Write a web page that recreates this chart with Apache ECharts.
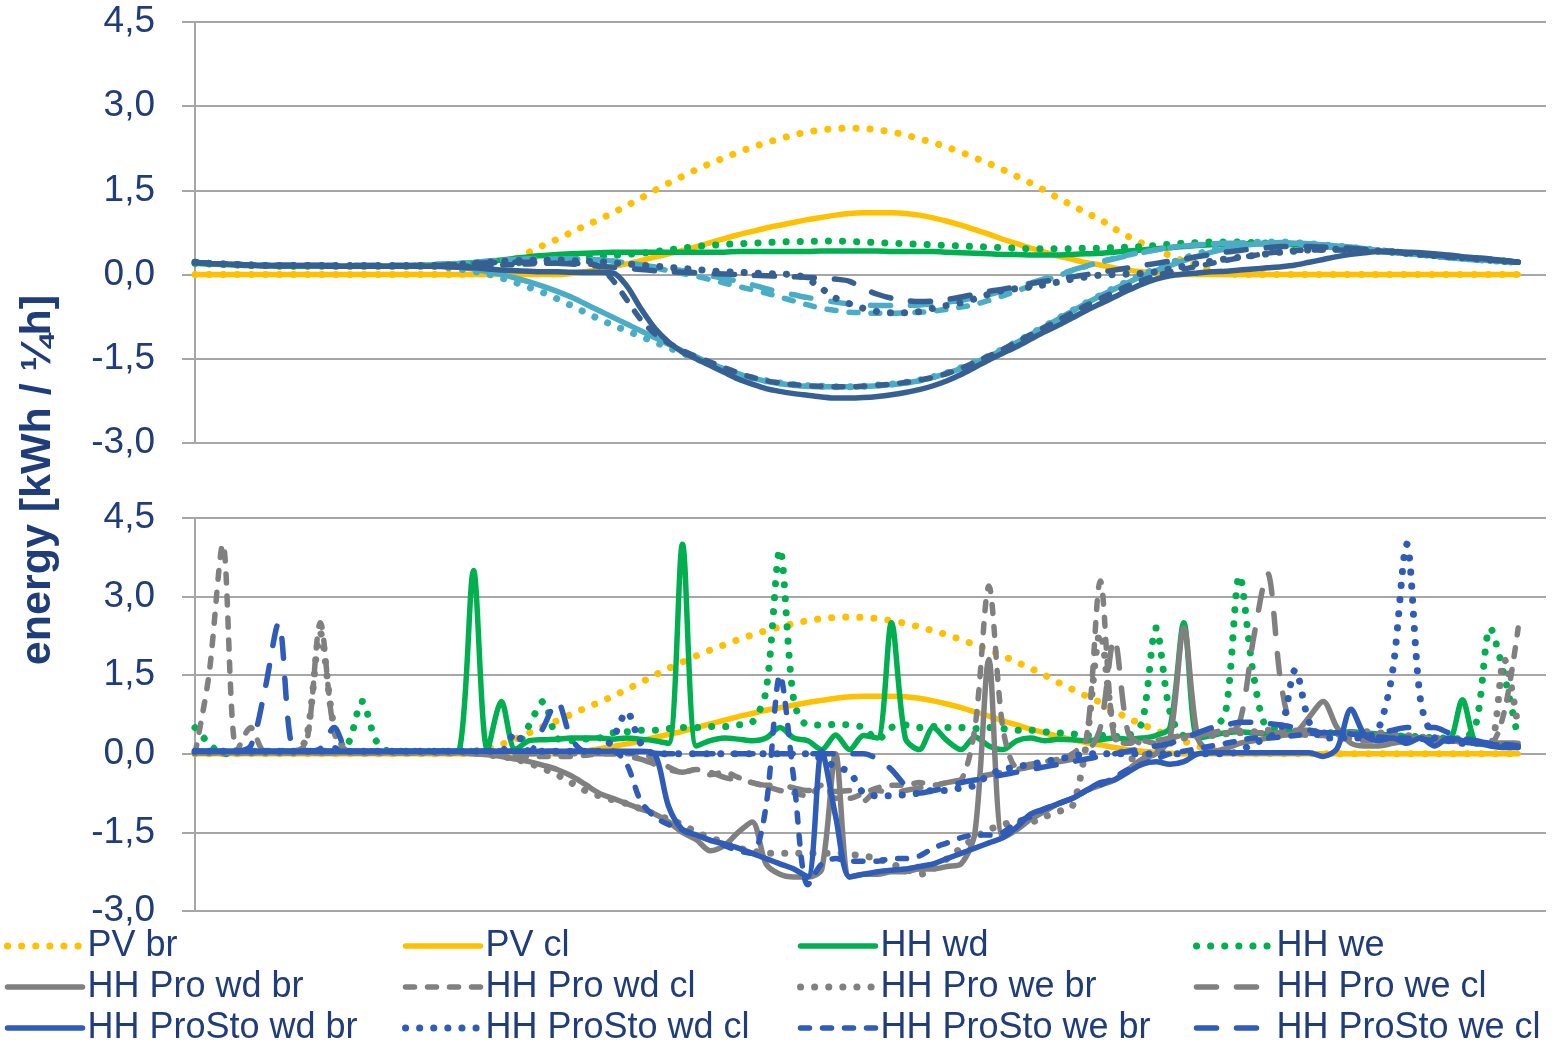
<!DOCTYPE html>
<html lang="de">
<head>
<meta charset="UTF-8">
<title>energy profiles</title>
<script src="https://cdn.jsdelivr.net/npm/echarts@6/dist/echarts.min.js"></script>
<style>
  html, body { margin: 0; padding: 0; background: #fff; }
  #main { width: 1557px; height: 1043px; }
</style>
</head>
<body>
<div id="main"></div>
<script>
// one value per quarter hour of the day, index 0..95
var pvBr = [0,0,0,0,0,0,0,0,0,0, 0,0,0,0,0,0,0,0,0,0,
  0.05,0.1,0.18,0.28,0.4,0.52,0.63,0.75,0.87,0.98, 1.1,1.23,1.36,1.5,1.63,1.75,1.87,1.98,2.08,2.18,
  2.27,2.35,2.42,2.49,2.54,2.58,2.6,2.61,2.6,2.58, 2.54,2.49,2.42,2.35,2.27,2.18,2.08,1.98,1.87,1.75,
  1.63,1.5,1.36,1.23,1.1,0.98,0.82,0.68,0.56,0.45, 0.34,0.24,0.15,0.08,0.03,0,0,0,0,0,
  0,0,0,0,0,0,0,0,0,0, 0,0,0,0,0,0];
var pvCl = [0,0,0,0,0,0,0,0,0,0, 0,0,0,0,0,0,0,0,0,0,
  0,0,0,0,0,0,0,0.02,0.05,0.09, 0.14,0.19,0.25,0.31,0.37,0.43,0.5,0.57,0.64,0.71,
  0.77,0.83,0.88,0.93,0.98,1.02,1.06,1.09,1.1,1.1, 1.1,1.09,1.06,1.01,0.95,0.88,0.8,0.72,0.63,0.55,
  0.47,0.4,0.33,0.27,0.21,0.17,0.12,0.08,0.05,0.03, 0.01,0,0,0,0,0,0,0,0,0,
  0,0,0,0,0,0,0,0,0,0, 0,0,0,0,0,0];

// upper panel: averaged profiles
var avgHhWd = [0.2,0.19,0.18,0.17,0.16,0.16,0.15,0.15,0.15,0.15, 0.15,0.15,0.15,0.15,0.15,0.15,0.16,0.17,0.18,0.2,
  0.21,0.23,0.26,0.29,0.32,0.34,0.36,0.37,0.38,0.39, 0.4,0.4,0.4,0.4,0.4,0.4,0.4,0.4,0.4,0.41,
  0.41,0.41,0.41,0.41,0.41,0.42,0.42,0.42,0.42,0.42, 0.41,0.41,0.41,0.41,0.4,0.39,0.38,0.37,0.36,0.36,
  0.35,0.35,0.35,0.36,0.37,0.38,0.4,0.42,0.44,0.46, 0.48,0.5,0.52,0.53,0.54,0.55,0.55,0.55,0.54,0.53,
  0.52,0.5,0.48,0.46,0.44,0.42,0.4,0.38,0.36,0.34, 0.32,0.3,0.28,0.26,0.24,0.22];
var avgHhWe = [0.2,0.19,0.18,0.17,0.16,0.16,0.15,0.15,0.15,0.15, 0.15,0.15,0.15,0.15,0.15,0.15,0.15,0.15,0.16,0.17,
  0.18,0.19,0.2,0.21,0.22,0.23,0.25,0.27,0.3,0.32, 0.34,0.36,0.38,0.41,0.44,0.47,0.5,0.52,0.54,0.55,
  0.56,0.57,0.58,0.59,0.59,0.6,0.6,0.59,0.58,0.57, 0.56,0.55,0.54,0.53,0.52,0.51,0.5,0.49,0.48,0.47,
  0.46,0.46,0.46,0.46,0.47,0.47,0.48,0.49,0.5,0.52, 0.54,0.56,0.57,0.58,0.58,0.58,0.57,0.56,0.55,0.54,
  0.52,0.5,0.48,0.46,0.44,0.42,0.4,0.38,0.36,0.34, 0.32,0.3,0.28,0.26,0.24,0.22];
var avgProWdBr = [0.22,0.2,0.19,0.18,0.17,0.16,0.16,0.16,0.16,0.16, 0.15,0.15,0.15,0.15,0.15,0.15,0.15,0.15,0.15,0.13,
  0.1,0.05,0,-0.06,-0.13,-0.21,-0.3,-0.4,-0.52,-0.64, -0.76,-0.88,-1,-1.12,-1.24,-1.36,-1.47,-1.58,-1.68,-1.77,
  -1.84,-1.9,-1.94,-1.97,-1.99,-2,-2,-2,-1.99,-1.98, -1.96,-1.93,-1.89,-1.83,-1.76,-1.67,-1.57,-1.46,-1.34,-1.21,
  -1.07,-0.93,-0.79,-0.65,-0.51,-0.38,-0.26,-0.14,-0.03,0.07, 0.16,0.25,0.33,0.4,0.46,0.51,0.54,0.56,0.57,0.56,
  0.55,0.53,0.51,0.49,0.46,0.43,0.41,0.38,0.35,0.33, 0.3,0.28,0.26,0.25,0.23,0.22];
var avgProWdCl = [0.22,0.2,0.19,0.18,0.17,0.16,0.16,0.16,0.16,0.16, 0.16,0.16,0.16,0.16,0.16,0.16,0.17,0.18,0.19,0.2,
  0.22,0.24,0.26,0.27,0.28,0.28,0.28,0.28,0.27,0.26, 0.24,0.21,0.17,0.12,0.07,0.02,-0.03,-0.09,-0.15,-0.21,
  -0.27,-0.33,-0.4,-0.47,-0.54,-0.6,-0.64,-0.67,-0.68,-0.69, -0.69,-0.68,-0.67,-0.65,-0.62,-0.58,-0.53,-0.46,-0.38,-0.29,
  -0.2,-0.11,-0.02,0.07,0.15,0.23,0.29,0.35,0.4,0.44, 0.48,0.51,0.53,0.55,0.56,0.56,0.56,0.55,0.54,0.53,
  0.52,0.5,0.48,0.46,0.44,0.42,0.4,0.38,0.36,0.34, 0.32,0.3,0.28,0.26,0.24,0.22];
var avgProWeBr = [0.22,0.2,0.19,0.18,0.17,0.16,0.16,0.16,0.16,0.16, 0.15,0.15,0.15,0.15,0.15,0.15,0.15,0.15,0.13,0.1,
  0.06,0.01,-0.06,-0.14,-0.23,-0.32,-0.43,-0.55,-0.67,-0.79, -0.9,-1,-1.1,-1.2,-1.3,-1.4,-1.5,-1.6,-1.7,-1.78,
  -1.84,-1.89,-1.93,-1.96,-1.98,-1.99,-2,-2,-1.99,-1.97, -1.95,-1.92,-1.88,-1.82,-1.75,-1.66,-1.56,-1.45,-1.33,-1.2,
  -1.06,-0.92,-0.78,-0.64,-0.5,-0.37,-0.24,-0.12,0,0.1, 0.2,0.29,0.37,0.44,0.5,0.54,0.57,0.58,0.58,0.57,
  0.55,0.53,0.51,0.48,0.46,0.43,0.41,0.38,0.36,0.33, 0.31,0.29,0.27,0.25,0.23,0.22];
var avgProWeCl = [0.22,0.2,0.19,0.18,0.17,0.16,0.16,0.16,0.16,0.16, 0.16,0.16,0.16,0.16,0.16,0.16,0.17,0.18,0.19,0.2,
  0.22,0.24,0.26,0.27,0.28,0.28,0.28,0.28,0.27,0.26, 0.24,0.21,0.17,0.14,0.1,0.07,0.03,-0.02,-0.07,-0.12,
  -0.18,-0.25,-0.31,-0.36,-0.41,-0.45,-0.49,-0.52,-0.54,-0.55, -0.55,-0.55,-0.54,-0.52,-0.49,-0.46,-0.41,-0.36,-0.29,-0.22,
  -0.15,-0.07,0,0.08,0.15,0.22,0.28,0.34,0.39,0.44, 0.48,0.51,0.53,0.55,0.56,0.56,0.56,0.55,0.54,0.53,
  0.52,0.5,0.48,0.46,0.44,0.42,0.4,0.38,0.36,0.34, 0.32,0.3,0.28,0.26,0.24,0.22];
var avgStoWdBr = [0.22,0.2,0.19,0.18,0.17,0.16,0.16,0.16,0.16,0.16, 0.15,0.15,0.15,0.15,0.15,0.15,0.15,0.15,0.14,0.13,
  0.12,0.1,0.08,0.07,0.06,0.05,0.05,0.04,0.04,0.04, 0.03,-0.2,-0.6,-0.95,-1.2,-1.38,-1.5,-1.62,-1.74,-1.86,
  -1.95,-2.03,-2.08,-2.12,-2.15,-2.18,-2.2,-2.2,-2.19,-2.17, -2.14,-2.1,-2.05,-1.98,-1.89,-1.78,-1.65,-1.52,-1.4,-1.28,
  -1.15,-1.02,-0.9,-0.77,-0.64,-0.52,-0.4,-0.28,-0.17,-0.08, -0.02,0.01,0.03,0.05,0.06,0.08,0.1,0.12,0.14,0.17,
  0.22,0.27,0.32,0.36,0.39,0.41,0.41,0.4,0.39,0.37, 0.35,0.32,0.3,0.28,0.25,0.22];
var avgStoWdCl = [0.22,0.2,0.19,0.18,0.17,0.16,0.16,0.16,0.16,0.16, 0.16,0.16,0.16,0.16,0.16,0.16,0.16,0.16,0.17,0.18,
  0.2,0.22,0.24,0.25,0.26,0.26,0.26,0.25,0.24,0.23, 0.21,0.19,0.17,0.15,0.13,0.11,0.09,0.07,0.05,0.04,
  0.03,0.02,0.01,0,-0.08,-0.25,-0.42,-0.52,-0.6,-0.66, -0.68,-0.68,-0.66,-0.6,-0.55,-0.5,-0.43,-0.35,-0.28,-0.25,
  -0.22,-0.18,-0.13,-0.08,-0.04,-0.01,0,0.01,0.02,0.05, 0.1,0.15,0.2,0.24,0.28,0.31,0.34,0.37,0.4,0.42,
  0.44,0.45,0.45,0.44,0.43,0.42,0.4,0.38,0.36,0.34, 0.32,0.3,0.28,0.26,0.24,0.22];
var avgStoWeBr = [0.22,0.2,0.19,0.18,0.17,0.16,0.16,0.16,0.16,0.16, 0.15,0.15,0.15,0.15,0.15,0.15,0.15,0.15,0.15,0.15,
  0.15,0.16,0.17,0.18,0.19,0.2,0.2,0.2,0.19,0.15, -0.1,-0.45,-0.8,-1.05,-1.22,-1.35,-1.46,-1.56,-1.66,-1.75,
  -1.83,-1.89,-1.93,-1.96,-1.98,-1.99,-2,-2,-1.99,-1.97, -1.95,-1.92,-1.88,-1.83,-1.76,-1.67,-1.56,-1.45,-1.33,-1.2,
  -1.07,-0.94,-0.81,-0.68,-0.55,-0.43,-0.31,-0.2,-0.1,-0.02, 0.05,0.1,0.15,0.2,0.25,0.3,0.34,0.38,0.41,0.43,
  0.44,0.44,0.44,0.43,0.42,0.41,0.4,0.38,0.36,0.34, 0.32,0.3,0.28,0.26,0.24,0.22];
var avgStoWeCl = [0.22,0.2,0.19,0.18,0.17,0.16,0.16,0.16,0.16,0.16, 0.16,0.16,0.16,0.16,0.16,0.16,0.16,0.16,0.17,0.18,
  0.2,0.21,0.22,0.22,0.22,0.21,0.2,0.19,0.17,0.15, 0.13,0.11,0.09,0.07,0.05,0.04,0.03,0.02,0.01,0,
  -0.01,-0.02,-0.03,-0.04,-0.05,-0.06,-0.08,-0.12,-0.25,-0.35, -0.42,-0.46,-0.48,-0.47,-0.44,-0.4,-0.35,-0.3,-0.26,-0.21,
  -0.16,-0.12,-0.08,-0.04,0,0.04,0.08,0.12,0.16,0.2, 0.24,0.28,0.32,0.36,0.4,0.43,0.46,0.48,0.5,0.5,
  0.5,0.49,0.48,0.47,0.45,0.43,0.41,0.39,0.37,0.35, 0.33,0.31,0.29,0.27,0.25,0.22];

// lower panel: single days
var hhWd = [0.05,0.05,0.05,0.05,0.05,0.05,0.05,0.05,0.05,0.05, 0.05,0.05,0.05,0.05,0.05,0.05,0.05,0.05,0.05,0.1,
  3.5,0.08,1,0.08,0.25,0.27,0.28,0.3,0.3,0.3, 0.28,0.3,0.28,0.25,0.2,4,0.15,0.25,0.3,0.28,
  0.25,0.3,0.5,0.3,0.25,0.08,0.36,0.08,0.35,0.3, 2.5,0.3,0.08,0.5,0.25,0.08,0.32,0.15,0.08,0.25,
  0.3,0.25,0.28,0.27,0.25,0.27,0.3,0.28,0.3,0.35, 0.5,2.5,0.3,0.35,0.4,0.42,0.4,0.38,0.4,0.42,
  0.4,0.38,0.4,0.42,0.4,0.38,0.35,0.33,0.3,0.28, 0.25,1.03,0.22,0.2,0.18,0.15];
var hhWe = [0.5,0.2,0,0.02,0.05,0.05,0.05,0.05,0.05,0.05, 0.05,0.2,1,0.25,0.05,0.05,0.05,0.05,0.05,0.05,
  0.05,0.05,0.05,0.1,0.55,1,0.3,0.25,0.28,0.3, 0.4,0.42,0.45,0.45,0.48,0.5,0.5,0.52,0.52,0.55,
  0.6,1.2,3.9,1,0.55,0.55,0.56,0.55,0.5,0.27, 0.5,0.55,0.5,0.52,0.5,0.5,0.48,0.5,0.48,0.45,
  0.45,0.42,0.4,0.38,0.35,0.35,0.33,0.35,0.6,2.4, 0.8,0.35,0.4,0.45,0.8,3.4,1.5,0.5,0.48,0.45,
  0.42,0.4,0.4,0.38,0.38,0.35,0.35,0.33,0.33,0.3, 0.3,0.28,0.6,2.4,1.5,0.3];
var proWdBr = [0.02,0.02,0.02,0.02,0.02,0.02,0.02,0.02,0.02,0.02, 0.02,0.02,0.02,0.02,0.02,0.02,0.02,0.02,0.02,0.02,
  0,-0.02,-0.05,-0.1,-0.15,-0.22,-0.3,-0.42,-0.58,-0.75, -0.85,-0.95,-1.05,-1.15,-1.3,-1.5,-1.64,-1.85,-1.75,-1.5,
  -1.3,-2.1,-2.3,-2.35,-2.35,-2.2,0,-2.35,-2.3,-2.3, -2.25,-2.25,-2.2,-2.2,-2.15,-2.1,-1.5,1.8,-1.6,-1.45,
  -1.25,-1.1,-0.95,-0.85,-0.7,-0.6,-0.5,-0.3,-0.1,0, 0.3,2.4,0.3,0.05,0.1,0.2,0.25,0.3,0.35,0.4,
  0.7,1,0.5,0.2,0.15,0.15,0.2,0.25,0.3,0.28, 0.25,0.25,0.22,0.2,0.2,0.2];
var proWdCl = [0,1.5,4,0.05,0.5,0.05,0.05,0.05,0.2,2.5, 0.4,0.05,0.03,0.03,0.03,0.03,0.03,0.03,0.03,0.03,
  0.03,0,-0.02,-0.05,-0.05,-0.05,-0.05,-0.05,-0.03,0, 0,0,0,-0.1,-0.25,-0.35,-0.3,-0.4,-0.35,-0.45,
  -0.55,-0.62,-0.7,-0.75,-0.8,-0.6,-0.85,-0.85,-0.75,-0.65, -0.6,-0.6,-0.55,-0.6,-0.55,-0.5,0.5,3.2,0.5,-0.25,
  -0.2,-0.15,-0.1,0,0.3,3.3,0.3,0.2,0.25,0.2, 0.3,0.35,0.35,0.4,0.45,0.45,0.4,0.4,0.4,0.38,
  0.35,0.35,0.3,0.3,0.25,0.25,0.3,0.3,0.28,0.25, 0.25,0.22,0.2,0.2,0.8,2.4];
var proWeBr = [0.02,0.02,0.02,0.02,0.02,0.02,0.02,0.02,0.3,2.3, 0.5,0.05,0.02,0.02,0.02,0.02,0.02,0.02,0.02,0.02,
  0.02,-0.02,-0.05,-0.1,-0.18,-0.28,-0.4,-0.55,-0.7,-0.8, -0.88,-0.95,-1.05,-1.15,-1.25,-1.35,-1.5,-1.6,-1.7,-1.8,
  -1.85,-1.9,-1.9,-1.9,-1.9,-1.9,-1.9,-1.92,-1.95,-2, -2.1,-2.2,-2.3,-2.2,-2,-1.8,-1.6,-1.45,-1.35,-1.3,
  -1.3,-1.2,-1.1,-1,0.2,2.3,0.4,-0.1,-0.05,0.1, 0.2,0.3,0.35,0.35,0.38,0.4,0.42,0.45,0.45,0.42,
  0.4,0.4,0.38,0.4,0.42,0.4,0.38,0.35,0.32,0.3, 0.28,0.25,0.2,0.2,1.8,0.5];
var proWeCl = [0.02,0.02,0.02,0.02,0.02,0.02,0.02,0.02,0.02,0.02, 0.02,0.02,0.02,0.02,0.02,0.02,0.02,0.02,0.02,0.02,
  0,0,0,0,0,0,0,0,0,0, 0,-0.05,-0.1,-0.2,-0.3,-0.35,-0.3,-0.35,-0.45,-0.5,
  -0.55,-0.6,-0.6,-0.65,-0.7,-0.7,-0.72,-0.7,-0.9,-0.7, -0.75,-0.7,-0.65,-0.6,-0.55,-0.5,-0.45,-0.4,-0.35,-0.3,
  -0.25,-0.2,-0.15,-0.1,0,0.5,2.2,0.4,0.2,0.25, 0.3,0.35,0.35,0.4,0.4,0.6,2.2,3.45,1.3,0.45,
  0.45,0.42,0.4,0.38,0.35,0.35,0.32,0.3,0.3,0.28, 0.25,0.25,0.22,0.2,0.2,0.2];
var stoWdBr = [0.05,0.05,0.05,0.05,0.05,0.05,0.05,0.05,0.05,0.05, 0.05,0.05,0.05,0.05,0.05,0.05,0.05,0.05,0.05,0.05,
  0.05,0.05,0.05,0.05,0.05,0.05,0.05,0.05,0.05,0.05, 0.05,0.05,0.05,0,-1,-1.45,-1.55,-1.65,-1.72,-1.8,
  -1.9,-2,-2.1,-2.2,-2.35,0.05,-1.2,-2.35,-2.3,-2.25, -2.22,-2.2,-2.15,-2.1,-2,-1.9,-1.8,-1.7,-1.6,-1.4,
  -1.15,-1.05,-0.95,-0.85,-0.7,-0.55,-0.5,-0.35,-0.2,-0.15, -0.2,-0.15,0,0.02,0.02,0.02,0.02,0.02,0.02,0.02,
  0.02,-0.05,0.1,0.85,0.35,0.25,0.3,0.2,0.3,0.15, 0.3,0.25,0.2,0.15,0.12,0.12];
var stoWdCl = [0.05,0.05,0.05,0.05,0.05,0.05,0.05,0.05,0.05,0.05, 0.1,0.05,0.05,0.05,0.05,0.05,0.05,0.05,0.05,0.05,
  0.05,0.05,0.05,0.4,0.05,0.05,0.05,0.05,0.05,0.05, 0.3,0.8,0.2,0,0,0,0,0,0,0,
  0,0,0,0,0,-0.1,-0.25,-0.35,-0.75,-0.8, -0.8,-0.78,-0.75,-0.7,-0.7,-0.65,-0.6,-0.4,-0.3,-0.25,
  -0.2,-0.15,-0.1,-0.05,0,0,0,0,0,0, 0,0,0,0,0,0.05,0.2,0.3,0.5,1.6,
  0.6,0.3,0.3,0.3,0.3,0.5,1.6,4,1,0.3, 0.25,0.2,0.2,0.18,0.15,0.15];
var stoWeBr = [0.05,0.05,0.05,0.05,0.05,0.05,0.05,0.05,0.05,0.05, 0.05,0.05,0.05,0.05,0.05,0.05,0.05,0.05,0.05,0.05,
  0.05,0.05,0.05,0.05,0.05,0.05,0.05,0.05,0.05,0.05, 0.05,-0.2,-0.9,-1.2,-1.35,-1.45,-1.55,-1.65,-1.75,-1.85,
  -1.9,-1,1.5,-0.5,-2.5,-2.1,-2,-2.05,-2.05,-2.05, -2,-2,-1.95,-1.8,-1.7,-1.6,-1.55,-1.55,-1.5,-1.3,
  -1.2,-1.05,-0.95,-0.85,-0.7,-0.6,-0.45,-0.3,-0.2,-0.1, 0,0.05,0.1,0.15,0.2,0.25,0.3,0.3,0.32,0.35,
  0.38,0.4,0.4,0.38,0.35,0.32,0.3,0.3,0.28,0.25, 0.25,0.22,0.2,0.18,0.15,0.12];
var stoWeCl = [0.05,0.05,0.05,0.05,0.15,1.2,2.5,0.1,0.05,0.1, 0.5,0.05,0.05,0.05,0.05,0.05,0.05,0.05,0.05,0.05,
  0.05,0.05,0.05,0.05,0.05,0.5,1,0.3,0.05,0.05, 0.05,0.03,0.02,0.01,0,0,0,0,0,0,
  0,0,0,0,0,0,0,0,0,-0.1, -0.3,-0.6,-0.75,-0.7,-0.65,-0.55,-0.5,-0.45,-0.4,-0.35,
  -0.3,-0.25,-0.2,-0.15,-0.1,-0.05,0,0.05,0.1,0.15, 0.2,0.3,0.4,0.5,0.55,0.6,0.6,0.58,0.55,0.5,
  0.45,0.4,0.4,0.38,0.35,0.4,0.45,0.5,0.5,0.5, 0.4,0.3,0.25,0.2,0.18,0.15];

var yTicks = [-3, -1.5, 0, 1.5, 3, 4.5];

var myChart = echarts.init(document.getElementById('main'));

var YELLOW = '#FFC000', GREEN = '#00B050', GREY = '#808080', BLUE = '#2E5CB8',
    NAVY = '#376092', LIGHT = '#4BACC6', TEXT = '#1F3D7A', AXIS = '#A6A6A6';
var SOLID = 'solid', DOT = [0.1, 14], DASH = [9, 13], LONG = [20, 20];
var FONT = '"Liberation Sans", Arial, sans-serif';

function line(name, arr, g, color, dash) {
    return {
        name: name, type: 'line', xAxisIndex: g, yAxisIndex: g,
        data: arr.map(function (v, i) { return [i, v]; }),
        symbol: 'none', smooth: 0.3,
        lineStyle: { color: color, width: dash === DOT ? 7 : 5.5, type: dash, cap: 'round', join: 'round' },
        itemStyle: { color: color },
        emphasis: { disabled: true }
    };
}

function yAxis(g) {
    return {
        type: 'value', gridIndex: g, min: yTicks[0], max: yTicks[yTicks.length - 1], interval: 1.5,
        axisLine: { show: true, lineStyle: { color: AXIS, width: 2 } },
        axisTick: { show: true, length: 13, lineStyle: { color: AXIS, width: 2 } },
        splitLine: { lineStyle: { color: AXIS, width: 2 } },
        axisLabel: {
            margin: 40, color: TEXT, fontSize: 37, fontFamily: FONT,
            formatter: function (v) { return v.toFixed(1).replace('.', ','); }
        }
    };
}

function legendCol(left, names) {
    return {
        orient: 'vertical', left: left, top: 928, height: 140, padding: 0, itemGap: 5,
        itemWidth: 75, itemHeight: 14, selectedMode: false,
        itemStyle: { opacity: 0 },
        lineStyle: { width: 'inherit' },
        textStyle: { color: TEXT, fontSize: 36, fontFamily: FONT, lineHeight: 36 },
        data: names
    };
}

var option = {
    animation: false,
    backgroundColor: '#fff',
    grid: [
        { left: 195, top: 22, width: 1351, height: 421 },
        { left: 195, top: 518, width: 1351, height: 393 }
    ],
    xAxis: [
        { type: 'value', gridIndex: 0, min: 0, max: 97, show: false },
        { type: 'value', gridIndex: 1, min: 0, max: 97, show: false }
    ],
    yAxis: [yAxis(0), yAxis(1)],
    legend: [
        legendCol(4, ['PV br', 'HH Pro wd br', 'HH ProSto wd br']),
        legendCol(402, ['PV cl', 'HH Pro wd cl', 'HH ProSto wd cl']),
        legendCol(797, ['HH wd', 'HH Pro we br', 'HH ProSto we br']),
        legendCol(1193, ['HH we', 'HH Pro we cl', 'HH ProSto we cl'])
    ],
    graphic: [{
        type: 'text', x: 38, y: 480, rotation: Math.PI / 2,
        style: {
            text: 'energy [kWh / ¼h]', fill: TEXT,
            font: 'bold 43px ' + FONT, align: 'center', verticalAlign: 'middle'
        }
    }],
    series: [
        // lower panel (named, shown in legend)
        line('PV br', pvBr, 1, YELLOW, DOT),
        line('PV cl', pvCl, 1, YELLOW, SOLID),
        line('HH wd', hhWd, 1, GREEN, SOLID),
        line('HH we', hhWe, 1, GREEN, DOT),
        line('HH Pro wd br', proWdBr, 1, GREY, SOLID),
        line('HH Pro wd cl', proWdCl, 1, GREY, DASH),
        line('HH Pro we br', proWeBr, 1, GREY, DOT),
        line('HH Pro we cl', proWeCl, 1, GREY, LONG),
        line('HH ProSto wd br', stoWdBr, 1, BLUE, SOLID),
        line('HH ProSto wd cl', stoWdCl, 1, BLUE, DOT),
        line('HH ProSto we br', stoWeBr, 1, BLUE, DASH),
        line('HH ProSto we cl', stoWeCl, 1, BLUE, LONG),
        // upper panel: averages
        line('avg PV br', pvBr, 0, YELLOW, DOT),
        line('avg PV cl', pvCl, 0, YELLOW, SOLID),
        line('avg HH wd', avgHhWd, 0, GREEN, SOLID),
        line('avg HH we', avgHhWe, 0, GREEN, DOT),
        line('avg Pro wd br', avgProWdBr, 0, LIGHT, SOLID),
        line('avg Pro wd cl', avgProWdCl, 0, LIGHT, DASH),
        line('avg Pro we br', avgProWeBr, 0, LIGHT, DOT),
        line('avg Pro we cl', avgProWeCl, 0, LIGHT, LONG),
        line('avg ProSto wd br', avgStoWdBr, 0, NAVY, SOLID),
        line('avg ProSto wd cl', avgStoWdCl, 0, NAVY, DOT),
        line('avg ProSto we br', avgStoWeBr, 0, NAVY, DASH),
        line('avg ProSto we cl', avgStoWeCl, 0, NAVY, LONG)
    ]
};

myChart.setOption(option);
</script>
</body>
</html>
